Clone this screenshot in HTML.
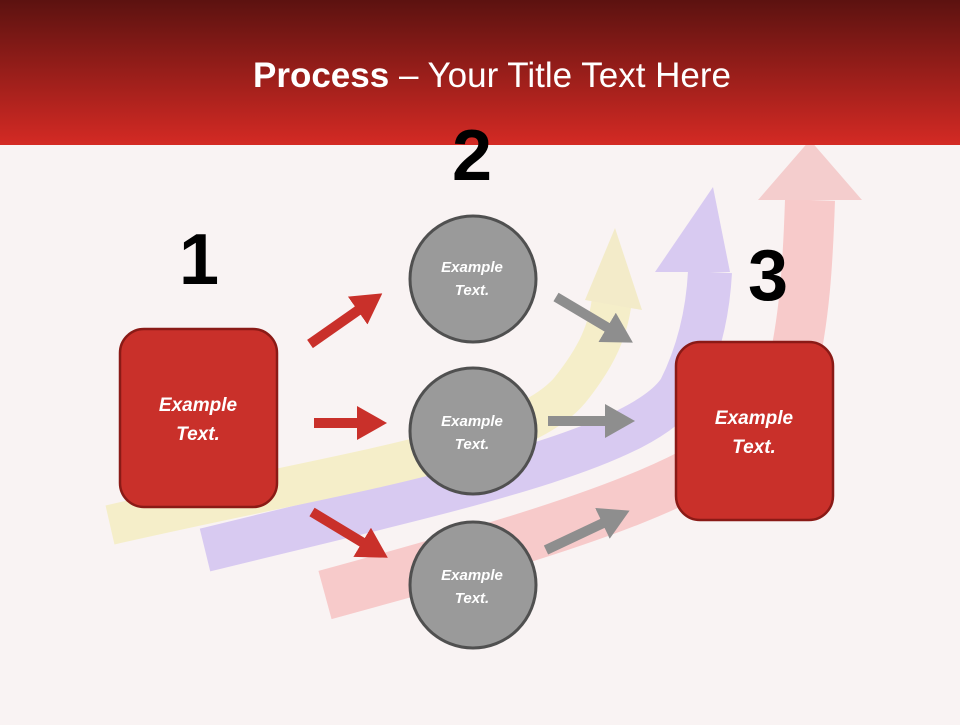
<!DOCTYPE html>
<html><head><meta charset="utf-8"><style>
body{margin:0;width:960px;height:720px;overflow:hidden;background:#f9f3f3;font-family:"Liberation Sans",sans-serif}
</style></head><body>
<svg width="960" height="720" viewBox="0 0 960 720" xmlns="http://www.w3.org/2000/svg">
<defs>
<linearGradient id="hd" x1="0" y1="0" x2="0" y2="1"><stop offset="0" stop-color="#5c1210"/><stop offset="1" stop-color="#d42a24"/></linearGradient>
<marker id="ra" markerWidth="3" markerHeight="3.4" refX="1.5" refY="1.7" orient="auto" markerUnits="strokeWidth"><path d="M0,0 L3,1.7 L0,3.4z" fill="#c9302a"/></marker>
<marker id="ga" markerWidth="3" markerHeight="3.4" refX="1.5" refY="1.7" orient="auto" markerUnits="strokeWidth"><path d="M0,0 L3,1.7 L0,3.4z" fill="#8e8e8e"/></marker>
</defs>
<rect width="960" height="720" fill="#f9f3f3"/>
<g opacity="0.5">
<path d="M325,595 C600,520 760,470 790,380 C805,320 808,260 810,200" stroke="#f7a3a3" stroke-width="50" fill="none"/>
<path d="M758,200 L810,140 L862,200z" fill="#f0a8a8"/>
<path d="M205,550 C450,490 640,450 680,390 C700,350 708,310 710,272" stroke="#b9a2f0" stroke-width="44" fill="none"/>
<path d="M655,272 L713,187 L730,272z" fill="#b9a2f0"/>
<path d="M110,525 C350,470 520,450 570,390 C598,355 608,330 612,300" stroke="#f3eba0" stroke-width="40" fill="none"/>
<path d="M585,300 L615,228 L642,310z" fill="#eee4a0"/>
</g>
<rect width="960" height="145" fill="url(#hd)"/>
<text x="492" y="87" text-anchor="middle" fill="#fff" font-size="35"><tspan font-weight="bold">Process</tspan> – Your Title Text Here</text>
<g font-weight="bold" font-size="72" fill="#000" text-anchor="middle">
<text x="199" y="284">1</text><text x="472" y="180">2</text><text x="768" y="300">3</text>
</g>
<rect x="120" y="329" width="157" height="178" rx="24" fill="#c9302a" stroke="#8a1a16" stroke-width="2.5"/>
<rect x="676" y="342" width="157" height="178" rx="24" fill="#c9302a" stroke="#8a1a16" stroke-width="2.5"/>
<g fill="#fff" font-style="italic" font-weight="bold" font-size="19" text-anchor="middle">
<text x="198" y="411">Example</text><text x="198" y="440">Text.</text>
<text x="754" y="424">Example</text><text x="754" y="453">Text.</text>
</g>
<g fill="#9a9a9a" stroke="#505050" stroke-width="3">
<circle cx="473" cy="279" r="63"/><circle cx="473" cy="431" r="63"/><circle cx="473" cy="585" r="63"/>
</g>
<g fill="#fff" font-style="italic" font-weight="bold" font-size="15" text-anchor="middle">
<text x="472" y="272">Example</text><text x="472" y="295">Text.</text>
<text x="472" y="426">Example</text><text x="472" y="449">Text.</text>
<text x="472" y="580">Example</text><text x="472" y="603">Text.</text>
</g>
<g stroke="#c9302a" stroke-width="10" fill="none" marker-end="url(#ra)">
<path d="M310,344 L370,302"/><path d="M314,423 L372,423"/><path d="M312,512 L375,550"/>
</g>
<g stroke="#8e8e8e" stroke-width="10" fill="none" marker-end="url(#ga)">
<path d="M556,297 L620,335"/><path d="M548,421 L620,421"/><path d="M546,550 L616,517"/>
</g>
</svg>
</body></html>
